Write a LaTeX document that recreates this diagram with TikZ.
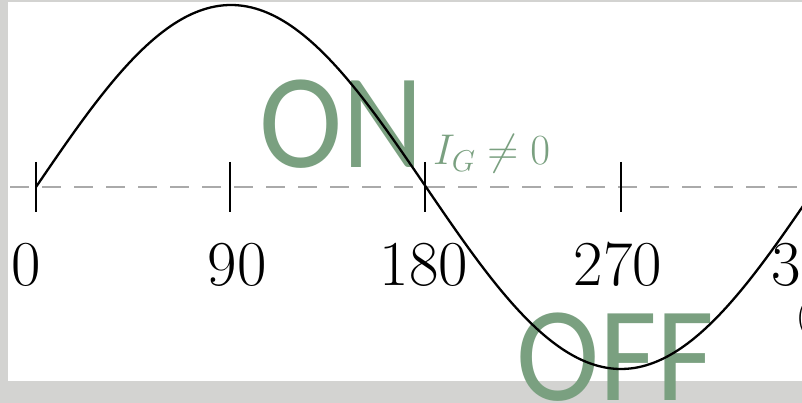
\RequirePackage{fix-cm}
\documentclass[tikz,border=0pt]{standalone}
\usepackage{fontspec}
\newfontfamily\carl{Carlito}
\definecolor{frame}{RGB}{211,211,209}
\definecolor{dashgray}{RGB}{170,170,170}
\definecolor{ongreen}{RGB}{122,160,128}
\tikzset{
  tick/.style={line width=2.2pt,black},
  axisline/.style={line width=2pt,dashgray,dash pattern=on 19pt off 13pt},
  wave/.style={line width=2.3pt,black,line join=round},
  num/.style={font=\fontsize{64}{64}\selectfont,anchor=base,inner sep=0pt},
  big/.style={font=\carl\fontsize{135}{135}\selectfont,text=ongreen,inner sep=0pt,anchor=base west,xscale=0.93},
}
\begin{document}
\begin{tikzpicture}[x=1pt,y=-1pt]
\useasboundingbox (0,0) rectangle (802,403);
\fill[frame] (0,0) rectangle (802,403);
\fill[white] (8,2) rectangle (802,381);
% axis
\draw[axisline] (10,187) -- (802,187);
\foreach \i/\x in {a/36,b/230,c/425,d/621}{
  \coordinate (t\i) at (\x,187);
  \draw[tick] (\x,162) -- (\x,212);
}
% labels
\node[num] (l0) at (26,285) {0};
\node[num] (l90) at (237,285) {90};
\node[num] (l180) at (424,285) {180};
\node[num] (l270) at (618,285) {270};
\node[num,anchor=base west] (l360) at (771,285) {360};
\node[font=\fontsize{36}{36}\selectfont,anchor=base west,inner sep=0pt] (par) at (796,327) {(};
% big words
\node[big] (on) at (259,168) {ON};
\node[big] (off) at (516,400) {OFF};
\node[text=ongreen,font=\fontsize{43}{43}\selectfont,anchor=base west,inner sep=0pt] (ig) at (433,165) {$I_G \neq 0$};
% wave
\draw[wave] plot[domain=36:830,samples=200,smooth] (\x,{187-182*sin((\x-36)/195*90)});
\end{tikzpicture}
\end{document}
